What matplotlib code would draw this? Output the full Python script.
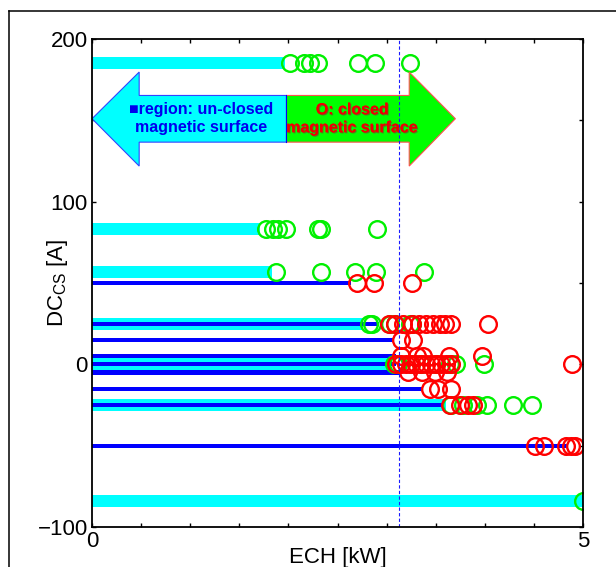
import numpy as np
import matplotlib
matplotlib.use("Agg")
import matplotlib.pyplot as plt
from matplotlib.patches import Polygon
from matplotlib.lines import Line2D
import matplotlib.patheffects as pe

plt.rcParams['font.family'] = ['Liberation Sans', 'DejaVu Sans']
plt.rcParams['mathtext.default'] = 'regular'

# un-closed regions (bars from 0 kW up to the given ECH power)
cyan_dc = [185, 83, 57, 25, 0, -25, -84]
cyan_ech = [1.96, 1.71, 1.83, 2.76, 3.03, 3.60, 5.0]
blue_dc = [50, 25, 15, 5, 0, -5, -15, -25, -50]
blue_ech = [2.64, 2.92, 3.08, 3.10, 3.10, 3.15, 3.37, 3.57, 4.85]

# closed magnetic surface points
green_dc = [185] * 7 + [83] * 7 + [57] * 5 + [25] * 6 + [0] * 8 + [-25] * 6 + [-84]
green_ech = [2.02, 2.16, 2.22, 2.30, 2.71, 2.88, 3.24,
             1.77, 1.84, 1.89, 1.98, 2.30, 2.33, 2.90,
             1.87, 2.33, 2.68, 2.89, 3.38,
             2.82, 2.85, 3.03, 3.09, 3.24, 3.26,
             3.07, 3.12, 3.25, 3.35, 3.50, 3.65, 3.71, 3.99,
             3.66, 3.78, 3.92, 4.02, 4.29, 4.48,
             5.0]
red_dc = [50] * 3 + [25] * 11 + [15] * 2 + [5] * 5 + [0] * 13 + [-5] * 4 + [-15] * 3 + [-25] * 4 + [-50] * 5
red_ech = [2.70, 2.87, 3.26,
           3.02, 3.09, 3.17, 3.26, 3.33, 3.40, 3.47, 3.54, 3.59, 3.66, 4.03,
           3.15, 3.27,
           3.15, 3.31, 3.37, 3.63, 3.97,
           3.10, 3.15, 3.20, 3.25, 3.30, 3.35, 3.40, 3.45, 3.50, 3.55, 3.60, 3.66, 4.89,
           3.22, 3.36, 3.49, 3.61,
           3.44, 3.52, 3.66,
           3.65, 3.75, 3.83, 3.88,
           4.51, 4.60, 4.83, 4.88, 4.92]

ech_threshold = 3.13

fig = plt.figure(figsize=(6.16, 5.67), dpi=100)
ax = fig.add_axes([0.1494, 0.0705, 0.7971, 0.8607])

ax.barh(cyan_dc, cyan_ech, height=7.4, color='#00ffff', zorder=2)
ax.barh(blue_dc, blue_ech, height=2.6, color='#0000ff', zorder=3)

ax.plot(green_ech, green_dc, 'o', ms=12, mfc='none', mec='#00f000', mew=1.7, zorder=5)
ax.plot(red_ech, red_dc, 'o', ms=12, mfc='none', mec='#ff0000', mew=1.7, zorder=6)

# double arrow annotation
ys, yh, yc = (165.3, 136.6), (179.7, 121.9), 151
left = Polygon([(0.0, yc), (0.48, yh[0]), (0.48, ys[0]), (1.98, ys[0]),
                (1.98, ys[1]), (0.48, ys[1]), (0.48, yh[1])],
               closed=True, fc='#00ffff', ec='#3344ff', lw=0.8, zorder=7)
right = Polygon([(1.98, ys[0]), (3.23, ys[0]), (3.23, yh[0]), (3.70, yc),
                 (3.23, yh[1]), (3.23, ys[1]), (1.98, ys[1])],
                closed=True, fc='#00ff00', ec='#ff5050', lw=0.8, zorder=7)
ax.add_patch(left)
ax.add_patch(right)
ax.plot([1.98, 1.98], [ys[1], ys[0]], color='#0000ff', lw=0.8, zorder=8)
ax.text(1.11, yc, '\u25a0region: un-closed\nmagnetic surface', color='#0000ee',
        fontsize=11.5, fontweight='bold', ha='center', va='center',
        linespacing=1.25, zorder=9)
ax.text(2.65, yc, 'O: closed\nmagnetic surface', color='#ee0000',
        fontsize=11.5, fontweight='bold', ha='center', va='center',
        linespacing=1.25, zorder=9,
        path_effects=[pe.withSimplePatchShadow(offset=(0.8, -0.8),
                                               shadow_rgbFace='#803030', alpha=0.6),
                      pe.Normal()])

ax.axvline(ech_threshold, color='#1a1aff', lw=0.8, ls=(0, (3, 2)), zorder=10)

ax.set_xlim(0, 5)
ax.set_ylim(-100, 200)
ax.set_xticks(np.arange(0, 5.01, 0.5))
ax.set_xticklabels(['0'] + [''] * 9 + ['5'])
ax.set_yticks(np.arange(-100, 201, 50))
ax.set_yticklabels(['\u2212100', '', '0', '', '100', '', '200'])
ax.tick_params(direction='in', top=True, right=True, length=3, width=1,
               labelsize=16, pad=3)
for s in ax.spines.values():
    s.set_linewidth(1.3)
    s.set_zorder(11)

ax.set_xlabel('ECH [kW]', fontsize=16, labelpad=-4)
ax.set_ylabel('DC$_{CS}$ [A]', fontsize=16)
ax.yaxis.set_label_coords(-0.045, 0.5)

# outer frame of the figure panel (top and left edges only)
fig.lines.append(Line2D([0.014, 1.0], [0.981, 0.981], transform=fig.transFigure,
                        color='black', lw=1.1))
fig.lines.append(Line2D([0.014, 0.014], [0.0, 0.981], transform=fig.transFigure,
                        color='black', lw=1.1))

fig.savefig('out.png', dpi=100)
